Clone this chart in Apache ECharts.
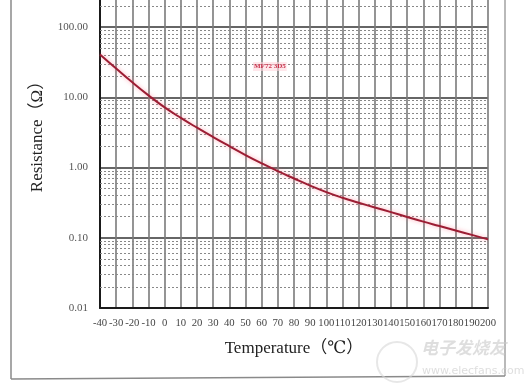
<!DOCTYPE html>
<html>
<head>
<meta charset="utf-8">
<script src="https://cdn.jsdelivr.net/npm/echarts@6/dist/echarts.min.js"></script>
<style>
html,body{margin:0;padding:0;background:#fff;overflow:hidden;width:527px;height:386px;}
#chart{position:absolute;left:0;top:-43px;width:527px;height:429px;}
</style>
</head>
<body>
<div id="chart"></div>
<script>
// Temperature (°C) categories
var temperatures = [-40,-30,-20,-10,0,10,20,30,40,50,60,70,80,90,100,110,120,130,140,150,160,170,180,190,200];
// Resistance (Ω)
var resistance = [41,25.8,16.4,10.7,7.2,5.1,3.7,2.72,2.02,1.51,1.15,0.89,0.70,0.555,0.448,0.372,0.316,0.27,0.232,0.198,0.17,0.147,0.127,0.11,0.095];
// Minor (dashed) grid levels of the log axis
var decadeStarts = [0.01,0.1,1,10,100];
var minorMultipliers = [2,3,4,5,6,7,8,9];
var curveLabel = 'MF72 3D5';

var minorLines = [];
decadeStarts.forEach(function(d){
  minorMultipliers.forEach(function(m){
    minorLines.push({yAxis: +(d*m).toPrecision(3)});
  });
});

var OFF = 43; // chart div is shifted up by this many px
var serif = '"Liberation Serif","DejaVu Serif","Noto Sans CJK SC",serif';
var chart = echarts.init(document.getElementById('chart'));
chart.setOption({
  animation: false,
  backgroundColor: '#fff',
  grid: {left: 100, right: 39, top: 0, bottom: 78, containLabel: false, outerBoundsMode: 'none'},
  xAxis: {
    type: 'value', min: -40, max: 200, interval: 10,
    name: 'Temperature（℃）', nameLocation: 'middle', nameGap: 32,
    nameTextStyle: {fontFamily: serif, fontSize: 17, color: '#222'},
    axisLine: {show: true, onZero: false, lineStyle: {color: '#1a1a1a', width: 2}},
    axisTick: {show: false},
    axisLabel: {fontFamily: serif, fontSize: 10.7, color: '#444', margin: 10, showMinLabel: true, showMaxLabel: true, hideOverlap: false},
    splitLine: {show: true, lineStyle: {color: '#7a7a7a', width: 1.6}}
  },
  yAxis: {
    type: 'log', logBase: 10, min: 0.01, max: 1000, splitNumber: 5,
    name: 'Resistance（Ω）', nameLocation: 'middle', nameGap: 54, nameMoveOverlap: false,
    nameTextStyle: {fontFamily: serif, fontSize: 17, color: '#222'},
    axisLine: {show: true, onZero: false, lineStyle: {color: '#1a1a1a', width: 2}},
    axisTick: {show: false},
    axisLabel: {fontFamily: serif, fontSize: 11, color: '#555', margin: 12,
      formatter: function(v){ return (+v).toFixed(2); }},
    splitLine: {show: true, lineStyle: {color: '#666', width: 2}}
  },
  series: [{
    type: 'line',
    data: temperatures.map(function(t,i){ return [t, resistance[i]]; }),
    smooth: true,
    showSymbol: false,
    z: 5,
    lineStyle: {color: '#9c1d33', width: 2, shadowColor: 'rgba(255,110,130,0.6)', shadowBlur: 4},
    markLine: {
      silent: true, symbol: 'none', z: 1,
      label: {show: false},
      lineStyle: {color: '#888', type: [2,2], width: 1},
      emphasis: {disabled: true},
      data: minorLines
    }
  }],
  graphic: [
    {type: 'text', left: 253, top: 62 + OFF, z: 10,
      style: {text: curveLabel, fill: '#c8304a', font: 'bold 7px ' + serif,
        backgroundColor: 'rgba(255,215,222,0.6)', padding: [1,1]}},
    {type: 'line', shape: {x1: 11, y1: 0, x2: 11, y2: 379 + OFF}, style: {stroke: '#8a8a8a', lineWidth: 1.5}},
    {type: 'line', shape: {x1: 11, y1: 379 + OFF, x2: 505, y2: 376 + OFF}, style: {stroke: '#8a8a8a', lineWidth: 1.5}},
    {type: 'line', shape: {x1: 505, y1: 0, x2: 505, y2: 376 + OFF}, style: {stroke: '#8a8a8a', lineWidth: 1.2}},
    {type: 'circle', shape: {cx: 397, cy: 362 + OFF, r: 20}, style: {fill: 'none', stroke: 'rgba(215,215,215,0.6)', lineWidth: 2}},
    {type: 'text', left: 421, top: 339 + OFF, z: 10,
      style: {text: '电子发烧友', fill: 'rgba(200,200,200,0.6)', font: 'italic bold 17px "Noto Sans CJK SC"'}},
    {type: 'text', left: 422, top: 366 + OFF, z: 10,
      style: {text: 'www.elecfans.com', fill: 'rgba(200,200,200,0.6)', font: '11px "DejaVu Sans"'}}
  ]
});
</script>
</body>
</html>
